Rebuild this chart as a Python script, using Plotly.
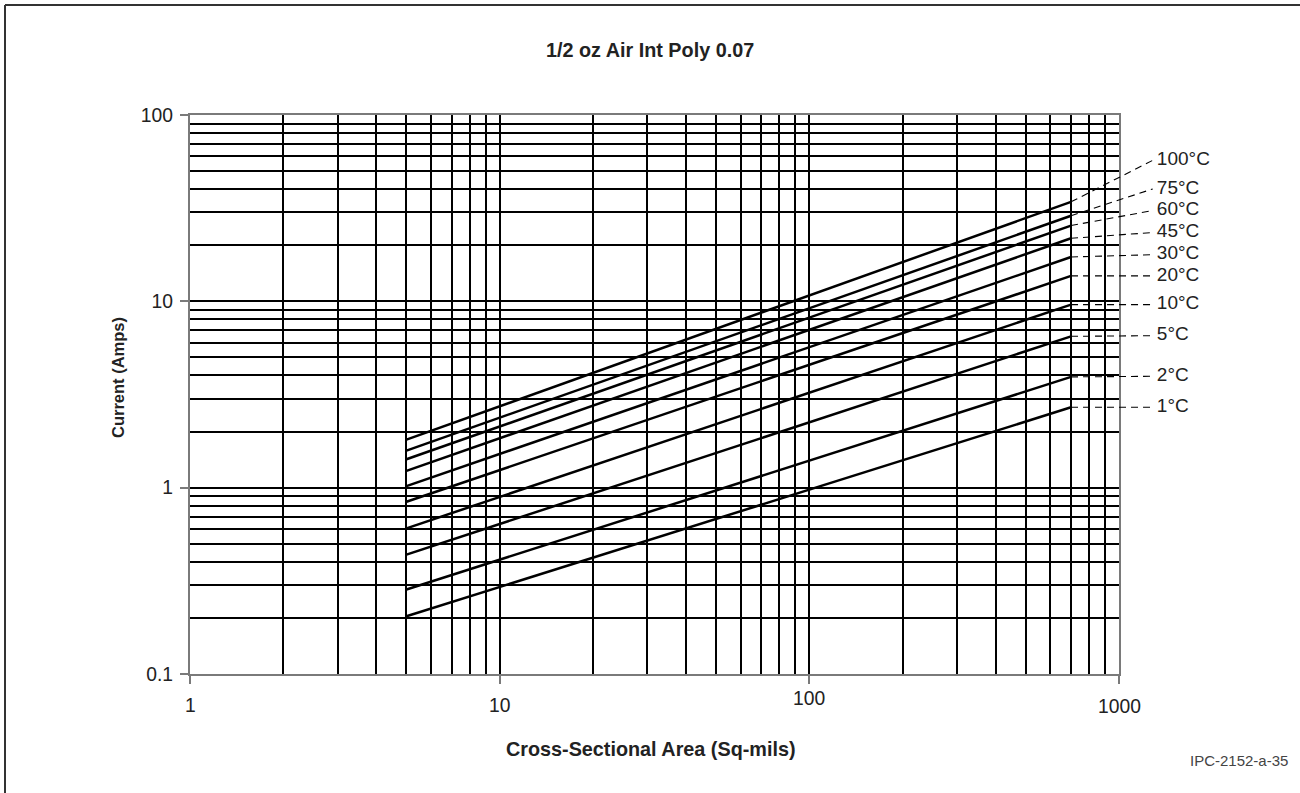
import math
import plotly.graph_objects as go

# ---------------- data ----------------
temp_labels = ["100°C", "75°C", "60°C", "45°C", "30°C", "20°C", "10°C", "5°C", "2°C", "1°C"]
area_points = [5, 700]                       # Cross-sectional area (sq-mils) at line ends
current_at_5 = [1.81, 1.58, 1.42, 1.23, 1.02, 0.84, 0.605, 0.437, 0.284, 0.204]
current_at_700 = [34.2, 28.8, 25.5, 21.8, 17.3, 13.7, 9.6, 6.49, 3.93, 2.70]
label_current = [57.1, 40.1, 30.7, 23.4, 17.8, 13.7, 9.6, 6.54, 3.96, 2.70]
leader_end_area = 1285                       # where the dashed leaders end
label_text_area = 1325                       # where the label text starts

x_major = [1, 10, 100, 1000]
x_major_text = ["1", "10", "100", "1000"]
y_major = [0.1, 1, 10, 100]
y_major_text = ["0.1", "1", "10", "100"]
minor_digits = [2, 3, 4, 5, 6, 7, 8, 9]

title_text = "1/2 oz Air Int Poly 0.07"
x_title = "Cross-Sectional Area (Sq-mils)"
y_title = "Current (Amps)"
credit = "IPC-2152-a-35"

# ---------------- layout geometry ----------------
W, H = 1300, 793
ML, MR, MT, MB = 190, 80, 115, 119
plot_w = W - ML - MR            # full (x2) width
main_w = 929                    # main axis width (1 -> 1000)
x_dom = main_w / plot_w
x_range = [0, 3]
x2_range = [0, 3 * plot_w / main_w]
y_range = [-1, 2]

FONT = "Liberation Sans, Arial, Helvetica, sans-serif"
TXT = "#222222"
TICK_SIZE = 19.3
GRID_W = 1.6

fig = go.Figure()

# curves
for name, c5, c700 in zip(temp_labels, current_at_5, current_at_700):
    fig.add_trace(go.Scatter(
        x=area_points, y=[c5, c700], mode="lines", name=name,
        line=dict(color="black", width=2.5), xaxis="x", yaxis="y",
        showlegend=False, hoverinfo="skip"))

# dashed leaders + labels (on an overlay axis pair with identical scale, wider extent)
for name, c700, lc in zip(temp_labels, current_at_700, label_current):
    fig.add_trace(go.Scatter(
        x=[area_points[-1], leader_end_area], y=[c700, lc], mode="lines",
        line=dict(color="black", width=1.1, dash="7px,5px"),
        xaxis="x2", yaxis="y2", showlegend=False, hoverinfo="skip"))
fig.add_trace(go.Scatter(
    x=[label_text_area] * len(temp_labels), y=label_current, mode="text",
    text=temp_labels, textposition="middle right", cliponaxis=False,
    textfont=dict(family=FONT, size=19, color=TXT),
    xaxis="x2", yaxis="y2", showlegend=False, hoverinfo="skip"))

minor_x = [d * 10 ** e for e in range(0, 3) for d in minor_digits]
minor_y = [d * 10 ** e for e in range(-1, 2) for d in minor_digits]

axis_common = dict(
    type="log", showgrid=True, gridcolor="black", gridwidth=GRID_W,
    showline=True, linecolor="#7a7a7a", linewidth=2.2, mirror=True,
    ticks="outside", ticklen=8, tickwidth=1.5, tickcolor="#7a7a7a",
    zeroline=False, tickfont=dict(family=FONT, size=TICK_SIZE, color=TXT),
    tickmode="array",
)

fig.update_layout(
    width=W, height=H,
    margin=dict(l=ML, r=MR, t=MT, b=MB),
    paper_bgcolor="white", plot_bgcolor="rgba(0,0,0,0)",
    font=dict(family=FONT, color=TXT),
    xaxis=dict(axis_common, domain=[0, x_dom], range=x_range,
               tickvals=x_major, ticktext=x_major_text, showticklabels=False,
               minor=dict(tickmode="array", tickvals=minor_x, showgrid=True,
                          gridcolor="black", gridwidth=GRID_W, ticks="")),
    yaxis=dict(axis_common, range=y_range, tickvals=y_major, ticktext=y_major_text,
               ticklabelstandoff=3,
               minor=dict(tickmode="array", tickvals=minor_y, showgrid=True,
                          gridcolor="black", gridwidth=GRID_W, ticks="")),
    xaxis2=dict(type="log", domain=[0, 1], range=x2_range, visible=False,
                anchor="y2", showgrid=False),
    yaxis2=dict(type="log", domain=[0, 1], range=y_range, visible=False,
                anchor="x2", showgrid=False),
)

annotations = []
# x tick labels (the "100" label sits a little higher in the original)
x_label_drop = [31, 31, 24, 32]
for v, t, d in zip(x_major, x_major_text, x_label_drop):
    annotations.append(dict(x=math.log10(v), xref="x", y=0, yref="y domain",
                            text=t, showarrow=False, yanchor="middle", yshift=-d,
                            font=dict(family=FONT, size=TICK_SIZE, color=TXT)))
annotations.append(dict(x=(650 - ML) / main_w, xref="x domain", y=1, yref="y domain",
                        yshift=MT - 49.5, yanchor="middle", text="<b>" + title_text + "</b>",
                        showarrow=False, font=dict(family=FONT, size=19.8, color=TXT)))
annotations.append(dict(x=(650 - ML) / main_w, xref="x domain", y=0, yref="y domain",
                        yshift=-75, yanchor="middle", text="<b>" + x_title + "</b>",
                        showarrow=False, font=dict(family=FONT, size=19.8, color=TXT)))
annotations.append(dict(x=0, xref="x domain", xshift=-(ML - 118), y=(H - MB - 378) / (H - MT - MB),
                        yref="y domain", xanchor="center", yanchor="middle", textangle=-90,
                        text="<b>" + y_title + "</b>", showarrow=False,
                        font=dict(family=FONT, size=16.5, color=TXT)))
annotations.append(dict(x=1, xref="paper", xshift=(W - 10) - (W - MR), xanchor="right",
                        y=0, yref="paper", yshift=-(760 - (H - MB)), yanchor="middle",
                        text=credit, showarrow=False,
                        font=dict(family=FONT, size=15, color="#444444")))
fig.update_layout(annotations=annotations)

# outer frame (top and left edges visible in the original)
px = lambda p: (p - ML) / plot_w
py = lambda q: (H - MB - q) / (H - MT - MB)
fig.add_shape(type="line", xref="paper", yref="paper", x0=px(5), x1=px(W), y0=py(5), y1=py(5),
              line=dict(color="#333333", width=2))
fig.add_shape(type="line", xref="paper", yref="paper", x0=px(5), x1=px(5), y0=py(5), y1=py(H),
              line=dict(color="#333333", width=2))

fig.write_html("out.html", config={"displayModeBar": False},
               post_script="document.body.style.margin='0';document.body.style.overflow='hidden';")
